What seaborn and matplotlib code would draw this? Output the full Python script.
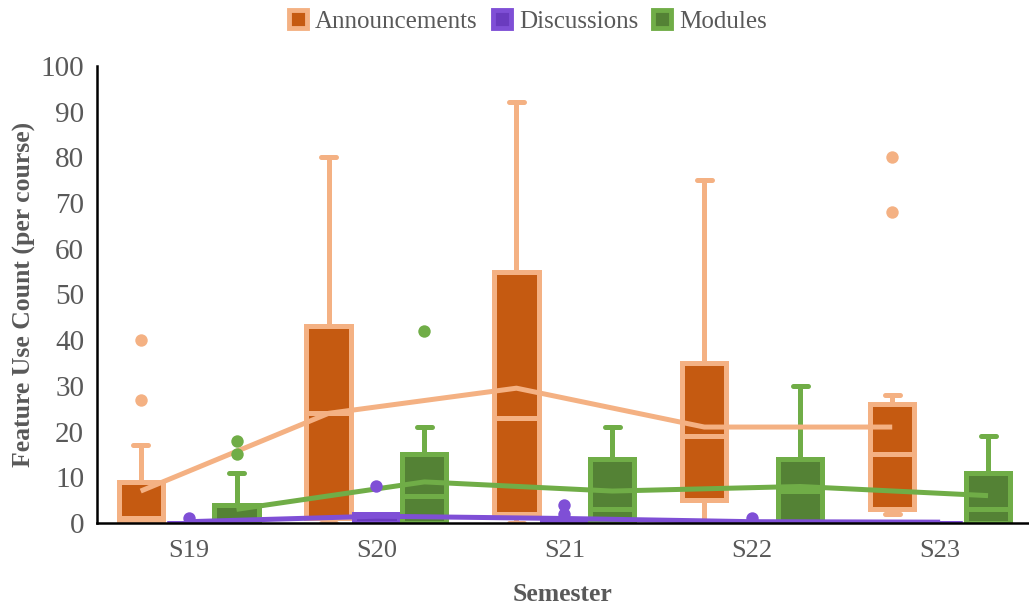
import numpy as np
import pandas as pd
import seaborn as sns
import matplotlib.pyplot as plt
from matplotlib.lines import Line2D

semesters = ['S19', 'S20', 'S21', 'S22', 'S23']
features = ['Announcements', 'Discussions', 'Modules']

# box statistics (per semester)
ann_whislo = [0, 0, 0, 0, 2]
ann_q1 = [0, 1, 2, 5, 3]
ann_med = [1, 24, 23, 19, 15]
ann_q3 = [9, 43, 55, 35, 26]
ann_whishi = [17, 80, 92, 75, 28]
ann_mean = [7, 24, 29.5, 21, 21]
ann_fliers = [[27, 40], [], [], [], [68, 80]]

dis_whislo = [0, 0, 0, 0, 0]
dis_q1 = [0, 0, 0, 0, 0]
dis_med = [0, 0, 0, 0, 0]
dis_q3 = [0, 2, 0.5, 0, 0]
dis_whishi = [0, 2, 0.5, 0, 0]
dis_mean = [0.3, 1.5, 1.0, 0.3, 0.2]
dis_fliers = [[1], [8], [2, 4], [1], []]

mod_whislo = [0, 0, 0, 0, 0]
mod_q1 = [0, 0, 0, 0, 0]
mod_med = [0, 6, 3, 7, 3]
mod_q3 = [4, 15, 14, 14, 11]
mod_whishi = [11, 21, 21, 30, 19]
mod_mean = [3, 9, 7, 8, 6]
mod_fliers = [[15, 18], [42], [], [], []]

face_colors = {'Announcements': '#C55A11', 'Discussions': '#6A3BBF', 'Modules': '#548235'}
edge_colors = {'Announcements': '#F4B183', 'Discussions': '#7F4FD6', 'Modules': '#70AD47'}

data = {
    'Announcements': (ann_whislo, ann_q1, ann_med, ann_q3, ann_whishi, ann_mean, ann_fliers),
    'Discussions': (dis_whislo, dis_q1, dis_med, dis_q3, dis_whishi, dis_mean, dis_fliers),
    'Modules': (mod_whislo, mod_q1, mod_med, mod_q3, mod_whishi, mod_mean, mod_fliers),
}
offsets = {'Announcements': -0.255, 'Discussions': 0.0, 'Modules': 0.255}

sns.set_theme(style='white')
plt.rcParams['font.family'] = ['Liberation Serif', 'DejaVu Serif']

fig = plt.figure(figsize=(10.29, 6.04), dpi=100)
ax = fig.add_axes([0.094, 0.134, 0.906, 0.757])

lw = 3.6
for feat in features:
    wlo, q1, med, q3, whi, mean, fl = data[feat]
    fc, ec = face_colors[feat], edge_colors[feat]
    stats = []
    for i in range(len(semesters)):
        stats.append(dict(whislo=wlo[i], q1=q1[i], med=med[i], q3=q3[i],
                          whishi=whi[i], fliers=[]))
    pos = [i + offsets[feat] for i in range(len(semesters))]
    ax.bxp(stats, positions=pos, widths=0.235, patch_artist=True,
           showfliers=False, capwidths=0.08,
           boxprops=dict(facecolor=fc, edgecolor=ec, linewidth=lw),
           medianprops=dict(color=ec, linewidth=lw),
           whiskerprops=dict(color=ec, linewidth=lw),
           capprops=dict(color=ec, linewidth=lw))
    # outliers
    fx, fy = [], []
    for i, vals in enumerate(fl):
        for v in vals:
            fx.append(i + offsets[feat])
            fy.append(v)
    if fx:
        sns.scatterplot(x=fx, y=fy, ax=ax, color=ec, s=80, edgecolor=ec,
                        linewidth=0, zorder=4, legend=False)
    # mean line
    sns.lineplot(x=pos, y=mean, ax=ax, color=ec, linewidth=lw, zorder=3,
                 legend=False, solid_capstyle='butt')

ax.set_xlim(-0.489, 4.473)
ax.set_ylim(0, 100)
ax.set_yticks(range(0, 101, 10))
ax.set_xticks(range(len(semesters)))
ax.set_xticklabels(semesters)
ax.tick_params(axis='both', length=0, labelcolor='#595959')
ax.tick_params(axis='y', labelsize=21, pad=9)
ax.tick_params(axis='x', labelsize=19, pad=12)
for s in ['top', 'right']:
    ax.spines[s].set_visible(False)
for s in ['left', 'bottom']:
    ax.spines[s].set_color('black')
    ax.spines[s].set_linewidth(1.8)
ax.spines['bottom'].set_zorder(6)

ax.set_ylabel('Feature Use Count (per course)', fontsize=18.5, fontweight='bold',
              color='#595959', labelpad=3)
ax.set_xlabel('Semester', fontsize=18.5, fontweight='bold', color='#595959', labelpad=15)

handles = [Line2D([], [], linestyle='none', marker='s', markersize=13,
                  markerfacecolor=face_colors[f], markeredgecolor=edge_colors[f],
                  markeredgewidth=3.5) for f in features]
fig.legend(handles, features, loc='upper center', bbox_to_anchor=(0.512, 1.02),
           ncol=3, frameon=False, fontsize=18, handlelength=0.9,
           handletextpad=0.25, columnspacing=0.5, labelcolor='#595959')

fig.savefig('out.png', dpi=100)
